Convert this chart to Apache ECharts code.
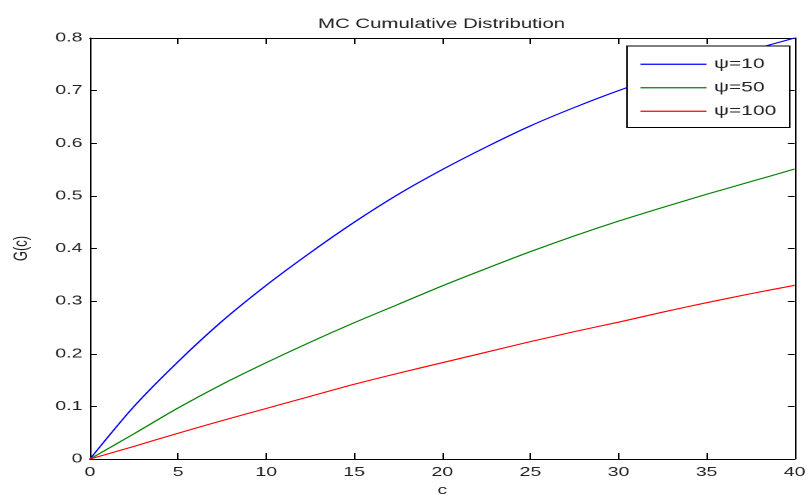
<!DOCTYPE html>
<html>
<head>
<meta charset="utf-8">
<title>MC Cumulative Distribution</title>
<script src="https://cdn.jsdelivr.net/npm/echarts@6/dist/echarts.min.js"></script>
<style>
  html, body { margin: 0; padding: 0; background: #ffffff; }
  #frame { width: 810px; height: 502px; overflow: hidden; position: relative; }
  /* the figure is laid out at 540px wide and stretched to the full 810px */
  #chart { width: 540px; height: 502px; transform: scaleX(1.5); transform-origin: 0 0; }
</style>
</head>
<body>
<div id="frame"><div id="chart"></div></div>
<script>
// x positions (c)
const cValues = [0, 2.5, 5, 7.5, 10, 12.5, 15, 17.5, 20, 22.5, 25, 27.5, 30, 32.5, 35, 37.5, 40];

// cumulative distribution G(c) for each psi
const seriesNames = ['\u03c8=10', '\u03c8=50', '\u03c8=100'];
const psi10 = [0, 0.100, 0.185, 0.262, 0.330, 0.392, 0.450, 0.503, 0.550, 0.593, 0.633, 0.668, 0.700, 0.728, 0.753, 0.777, 0.800];
const psi50 = [0, 0.048, 0.097, 0.142, 0.183, 0.222, 0.259, 0.294, 0.329, 0.362, 0.394, 0.424, 0.452, 0.478, 0.503, 0.527, 0.551];
const psi100 = [0, 0.024, 0.049, 0.073, 0.096, 0.119, 0.142, 0.163, 0.183, 0.203, 0.223, 0.242, 0.260, 0.279, 0.297, 0.314, 0.330];
const lineColors = ['#0000ff', '#008000', '#ff0000'];

// axis ticks
const xTicks = [0, 5, 10, 15, 20, 25, 30, 35, 40];
const yTicks = [0, 0.1, 0.2, 0.3, 0.4, 0.5, 0.6, 0.7, 0.8];

const FONT = '"Liberation Sans", Arial, sans-serif';
const INK = '#222222';

function pairs(ys) { return cValues.map((c, i) => [c, ys[i]]); }

const chart = echarts.init(document.getElementById('chart'), null, { renderer: 'canvas', devicePixelRatio: 2 });

const xBase = {
  type: 'value',
  min: xTicks[0], max: xTicks[xTicks.length - 1], interval: 5,
  axisLine: { show: true, onZero: false, lineStyle: { color: '#000', width: 1 } },
  axisTick: { show: true, inside: true, length: 6, lineStyle: { color: '#000', width: 1 } },
  splitLine: { show: false }
};
const yBase = {
  type: 'value',
  min: yTicks[0], max: yTicks[yTicks.length - 1], interval: 0.1,
  axisLine: { show: true, onZero: false, lineStyle: { color: '#000', width: 1 } },
  axisTick: { show: true, inside: true, length: 4.5, lineStyle: { color: '#000', width: 1 } },
  splitLine: { show: false }
};

chart.setOption({
  animation: false,
  backgroundColor: '#ffffff',
  title: {
    text: 'MC Cumulative Distribution',
    left: 207, top: 12,
    textStyle: { fontFamily: FONT, fontSize: 13.6, fontWeight: 'normal', color: INK }
  },
  grid: { left: 56, right: 9.33, top: 38, bottom: 41, containLabel: false },
  legend: {
    orient: 'vertical',
    left: 418, top: 46,
    padding: [10, 9, 8, 9],
    icon: 'rect',
    itemWidth: 44, itemHeight: 1.2, itemGap: 7,
    backgroundColor: '#ffffff',
    borderColor: '#000000', borderWidth: 1, borderRadius: 0,
    textStyle: { fontFamily: FONT, fontSize: 14, color: INK, lineHeight: 16.5 },
    data: seriesNames
  },
  xAxis: [
    Object.assign({}, xBase, {
      position: 'bottom',
      name: 'c', nameLocation: 'middle', nameGap: 25,
      nameTextStyle: { fontFamily: FONT, fontSize: 13, color: INK },
      axisLabel: { show: true, margin: 7, fontFamily: FONT, fontSize: 13, color: INK,
        formatter: v => String(v) }
    }),
    Object.assign({}, xBase, { position: 'top', axisLabel: { show: false } })
  ],
  yAxis: [
    Object.assign({}, yBase, {
      position: 'left',
      name: 'G(c)', nameLocation: 'middle', nameGap: 39, nameRotate: 90,
      nameTextStyle: { fontFamily: FONT, fontSize: 13, color: INK },
      axisLabel: { show: true, margin: 5, fontFamily: FONT, fontSize: 13, color: INK,
        formatter: v => (v === 0 ? '0' : v.toFixed(1)) }
    }),
    Object.assign({}, yBase, { position: 'right', axisLabel: { show: false } })
  ],
  series: [psi10, psi50, psi100].map((ys, i) => ({
    name: seriesNames[i],
    type: 'line',
    xAxisIndex: 0, yAxisIndex: 0,
    data: pairs(ys),
    smooth: 0.3,
    symbol: 'none', showSymbol: false,
    lineStyle: { color: lineColors[i], width: 1.1 },
    itemStyle: { color: lineColors[i] },
    z: 2
  }))
});
</script>
</body>
</html>
